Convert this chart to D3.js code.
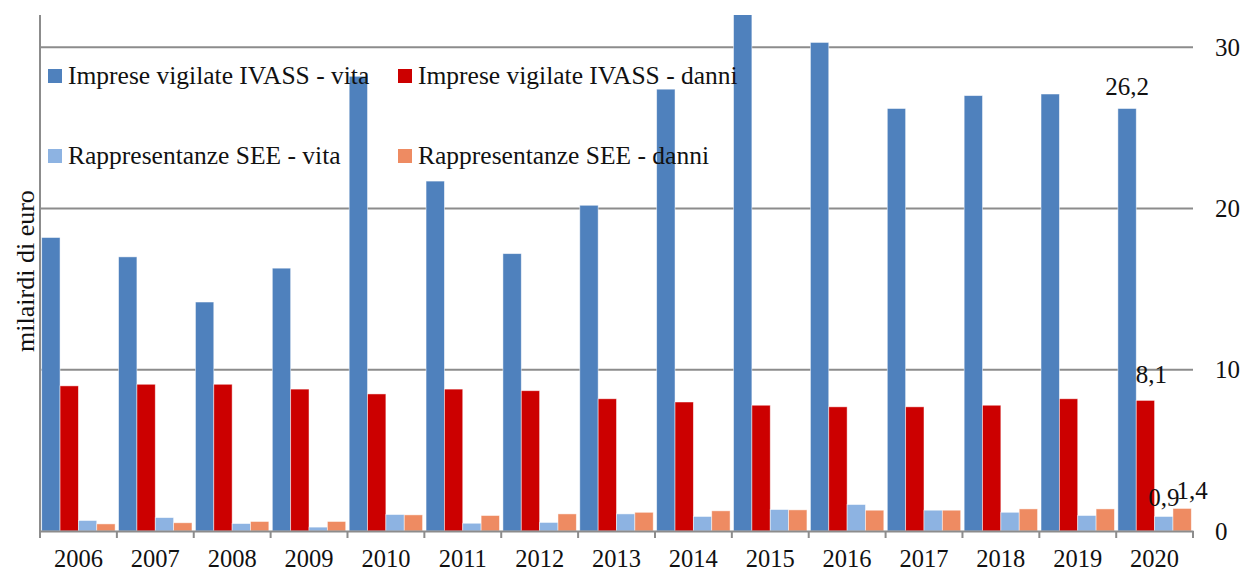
<!DOCTYPE html>
<html>
<head>
<meta charset="utf-8">
<script src="https://cdn.jsdelivr.net/npm/d3@7"></script>
<style>
  body { margin: 0; background: #fff; }
  text { font-family: "Liberation Serif", "DejaVu Serif", serif; fill: #111; }
</style>
</head>
<body>
<div id="chart"></div>
<script>
// dati (miliardi di euro)
const years = ['2006', '2007', '2008', '2009', '2010', '2011', '2012', '2013', '2014', '2015', '2016', '2017', '2018', '2019', '2020'];
const ivassVita = [18.2, 17.0, 14.2, 16.3, 28.2, 21.7, 17.2, 20.2, 27.4, 33.0, 30.3, 26.2, 27.0, 27.1, 26.2];
const ivassDanni = [9.0, 9.1, 9.1, 8.8, 8.5, 8.8, 8.7, 8.2, 8.0, 7.8, 7.7, 7.7, 7.8, 8.2, 8.1];
const seeVita = [0.65, 0.83, 0.46, 0.24, 1.02, 0.48, 0.53, 1.06, 0.90, 1.33, 1.64, 1.29, 1.16, 0.96, 0.9];
const seeDanni = [0.44, 0.51, 0.59, 0.59, 1.00, 0.96, 1.06, 1.16, 1.25, 1.31, 1.29, 1.29, 1.37, 1.37, 1.4];
const seriesNames = ['Imprese vigilate IVASS - vita', 'Imprese vigilate IVASS - danni', 'Rappresentanze SEE - vita', 'Rappresentanze SEE - danni'];
const seriesColors = ['#4f81bd', '#cc0000', '#8db3e2', '#ee8b62'];
const yTicks = [0, 10, 20, 30];

const series = [ivassVita, ivassDanni, seeVita, seeDanni];

const width = 1245, height = 574;
const margin = { top: 15, right: 52, bottom: 43, left: 40 };
const innerW = width - margin.left - margin.right;
const innerH = height - margin.top - margin.bottom;

const svg = d3.select('#chart')
  .append('svg')
  .attr('width', width)
  .attr('height', height);

const g = svg.append('g')
  .attr('transform', `translate(${margin.left},${margin.top})`);

const x0 = d3.scaleBand().domain(years).range([0, innerW]).paddingInner(0.045).paddingOuter(0.022);
const x1 = d3.scaleBand().domain(d3.range(series.length)).range([0, x0.bandwidth()]);
const y = d3.scaleLinear().domain([0, 32]).range([innerH, 0]);

svg.append('defs').append('clipPath').attr('id', 'clip')
  .append('rect').attr('x', 0).attr('y', 0).attr('width', innerW).attr('height', innerH);

// griglia
g.selectAll('.grid')
  .data(yTicks.filter(d => d > 0))
  .enter()
  .append('line')
  .attr('x1', 0).attr('x2', innerW)
  .attr('y1', d => y(d)).attr('y2', d => y(d))
  .attr('stroke', '#8c8c8c').attr('stroke-width', 2);

// barre
const groups = g.append('g').attr('clip-path', 'url(#clip)')
  .selectAll('g')
  .data(years)
  .enter()
  .append('g')
  .attr('transform', d => `translate(${x0(d)},0)`);

groups.selectAll('rect')
  .data((d, i) => series.map((s, k) => ({ k, v: s[i] })))
  .enter()
  .append('rect')
  .attr('x', d => x1(d.k))
  .attr('width', x1.bandwidth())
  .attr('y', d => y(d.v))
  .attr('height', d => innerH - y(d.v))
  .attr('fill', d => seriesColors[d.k])
  .attr('stroke', 'rgba(255,255,255,0.6)')
  .attr('stroke-width', 0.8);

// asse x
const xAxis = g.append('g')
  .attr('transform', `translate(0,${innerH})`)
  .call(d3.axisBottom(x0).tickSize(0).tickPadding(19));
xAxis.select('.domain').attr('stroke', '#8c8c8c').attr('stroke-width', 2);
xAxis.selectAll('text').style('font-size', '24.5px').attr('fill', '#111');

// tick separatori tra categorie
const bounds = years.map(d => x0(d) - x0.step() * x0.paddingOuter()).concat([innerW]);
g.selectAll('.sep')
  .data(bounds)
  .enter()
  .append('line')
  .attr('x1', d => d).attr('x2', d => d)
  .attr('y1', innerH).attr('y2', innerH + 7)
  .attr('stroke', '#8c8c8c').attr('stroke-width', 2);

// asse verticale sinistro
g.append('line')
  .attr('x1', 0).attr('x2', 0)
  .attr('y1', 0).attr('y2', innerH + 7)
  .attr('stroke', '#8c8c8c').attr('stroke-width', 2);

// asse y a destra
const yAxis = g.append('g')
  .attr('transform', `translate(${innerW},0)`)
  .call(d3.axisRight(y).tickValues(yTicks).tickSize(0).tickPadding(22));
yAxis.select('.domain').remove();
yAxis.selectAll('text').style('font-size', '25px').attr('fill', '#111');

// titolo asse
svg.append('text')
  .attr('transform', `translate(34,271) rotate(-90)`)
  .attr('text-anchor', 'middle')
  .style('font-size', '26px')
  .text('milairdi di euro');

// etichette 2020
const last = years.length - 1;
const labelData = [
  { k: 0, text: '26,2', dx: 0, dy: -14 },
  { k: 1, text: '8,1', dx: 6, dy: -17 },
  { k: 2, text: '0,9', dx: 0, dy: -10 },
  { k: 3, text: '1,4', dx: 10, dy: -9 }
];
g.selectAll('.lbl')
  .data(labelData)
  .enter()
  .append('text')
  .attr('x', d => x0(years[last]) + x1(d.k) + x1.bandwidth() / 2 + d.dx)
  .attr('y', d => y(series[d.k][last]) + d.dy)
  .attr('text-anchor', 'middle')
  .style('font-size', '25px')
  .text(d => d.text);

// legenda
const legend = svg.append('g');
const leg = legend.selectAll('g')
  .data(seriesNames)
  .enter()
  .append('g')
  .attr('transform', (d, i) => `translate(${i % 2 === 0 ? 48 : 398},${i < 2 ? 69 : 149})`);
leg.append('rect')
  .attr('width', 14).attr('height', 14)
  .attr('fill', (d, i) => seriesColors[i]);
leg.append('text')
  .attr('x', 20).attr('y', 15)
  .style('font-size', '25.5px')
  .text(d => d);
</script>
</body>
</html>
